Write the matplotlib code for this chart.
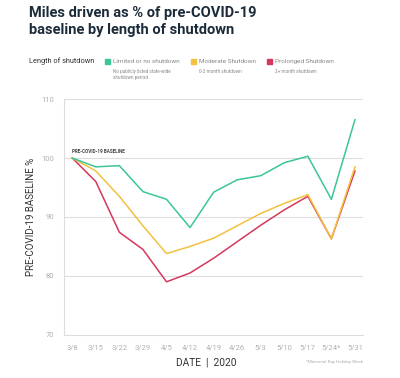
import matplotlib
matplotlib.use("Agg")
import matplotlib.pyplot as plt

# data
dates = ["3/8", "3/15", "3/22", "3/29", "4/5", "4/12", "4/19", "4/26", "5/3", "5/10", "5/17", "5/24*", "5/31"]
limited = [100, 98.5, 98.7, 94.3, 93.0, 88.2, 94.2, 96.3, 97.0, 99.2, 100.3, 93.0, 106.5]
moderate = [100, 97.8, 93.5, 88.5, 83.8, 85.0, 86.4, 88.5, 90.6, 92.3, 93.8, 86.3, 98.5]
prolonged = [100, 96.0, 87.4, 84.5, 79.0, 80.5, 83.0, 85.8, 88.6, 91.2, 93.5, 86.3, 97.8]

names = ["Limited or no shutdown", "Moderate Shutdown", "Prolonged Shutdown"]
subs = ["No publicly listed state-wide\nshutdown period", "0-2 month shutdown", "2+ month shutdown"]
colors = ["#3cc693", "#f3c13f", "#d5375d"]

plt.rcParams['font.family'] = ['Roboto', 'DejaVu Sans']

fig = plt.figure(figsize=(4, 3.78), dpi=100)
ax = fig.add_axes([0.16, 0.114, 0.748, 0.624])

x = list(range(len(dates)))
# draw prolonged first so yellow/green sit on top like the original
for vals, c in zip([prolonged, moderate, limited], colors[::-1]):
    ax.plot(x, vals, color=c, lw=1.1)

ax.set_ylim(70, 110)
ax.set_xlim(-0.35, 12.35)
ax.set_yticks([70, 80, 90, 100, 110])
ax.set_xticks(x)
ax.set_xticklabels(dates)
for yv in [80, 90, 100, 110]:
    ax.axhline(yv, color="#dddddd", lw=0.8, zorder=0)
for s in ["top", "right"]:
    ax.spines[s].set_visible(False)
ax.spines["left"].set_color("#dddddd")
ax.spines["bottom"].set_color("#dddddd")
ax.tick_params(length=0, labelsize=5.5, labelcolor="#b0b0b0", pad=7)

ax.set_ylabel("PRE-COVID-19 BASELINE %", fontsize=7, color="#333333", labelpad=4)
ax.text(0, 100.8, "PRE-COVID-19 BASELINE", fontsize=3.3, fontweight="bold", color="#444444")

# title
fig.text(0.0725, 0.985, "Miles driven as % of pre-COVID-19\nbaseline by length of shutdown",
         fontsize=10.5, fontweight="bold", color="#1c2b3a", va="top", linespacing=1.3)

# legend
fig.text(0.0725, 0.838, "Length of shutdown", fontsize=5.3, color="#333333", va="center")
lx = [0.262, 0.478, 0.668]
for px, n, s, c in zip(lx, names, subs, colors):
    fig.patches.append(plt.Rectangle((px, 0.831), 0.0125, 0.0135, color=c, transform=fig.transFigure, figure=fig))
    fig.text(px + 0.02, 0.838, n, fontsize=4.6, color="#888888", va="center")
    fig.text(px + 0.02, 0.818, s, fontsize=3.3, color="#888888", va="top", linespacing=1.4)

fig.text(0.515, 0.042, "DATE  |  2020", fontsize=7.3, color="#333333", ha="center", va="center")
fig.text(0.907, 0.042, "*Memorial Day Holiday Week", fontsize=3.2, color="#aaaaaa", ha="right", va="center")

fig.savefig("out.png", dpi=100, facecolor="white")
